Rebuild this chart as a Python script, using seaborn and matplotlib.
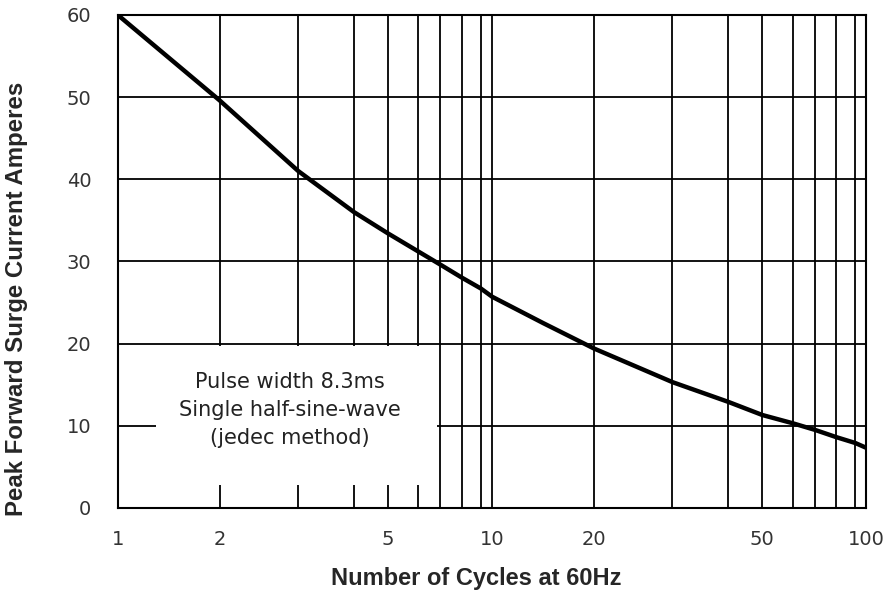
import numpy as np
import pandas as pd
import matplotlib
matplotlib.use("Agg")
import matplotlib.pyplot as plt
from matplotlib.patches import Rectangle
from matplotlib.ticker import FixedLocator, NullFormatter
import seaborn as sns

# values
cycles = [1, 2, 3, 4, 5, 6, 7, 8, 9, 10, 15, 20, 30, 40, 50, 60, 70, 80, 90, 100]
surge_amps = [60, 49.6, 41.0, 36.0, 33.4, 31.2, 29.6, 28.0, 26.7, 25.7, 22.5,
              19.4, 15.3, 12.9, 11.3, 10.3, 9.5, 8.6, 7.9, 7.3]
x_ticks = [1, 2, 5, 10, 20, 50, 100]
y_ticks = [0, 10, 20, 30, 40, 50, 60]
note_lines = ["Pulse width 8.3ms", "Single half-sine-wave", "(jedec method)"]

# the printed log paper is not a true log scale: where 1..10 sit inside a decade
MANT = np.arange(1, 11)
DECADE_POS = np.array([0, 0.272, 0.482, 0.631, 0.722, 0.803, 0.862, 0.920, 0.970, 1.0])


def paper_fwd(x):
    x = np.clip(np.asarray(x, dtype=float), 1e-6, None)
    d = np.floor(np.log10(x) + 1e-12)
    m = x / 10.0 ** d
    return d + np.interp(m, MANT, DECADE_POS)


def paper_inv(y):
    y = np.asarray(y, dtype=float)
    d = np.floor(y)
    m = np.interp(y - d, DECADE_POS, MANT)
    return m * 10.0 ** d


sns.set_style("white")
plt.rcParams['font.family'] = ['Liberation Sans', 'DejaVu Sans']

df = pd.DataFrame({"cycles": cycles, "amps": surge_amps})

fig = plt.figure(figsize=(8.85, 5.94), dpi=100)
ax = fig.add_axes([0.133, 0.145, 0.846, 0.830])

sns.lineplot(data=df, x="cycles", y="amps", ax=ax, color="black", linewidth=3.2, zorder=3)

ax.set_xscale("function", functions=(paper_fwd, paper_inv))
ax.set_xlim(1, 100)
ax.set_ylim(0, 60)

grid_x = list(range(1, 10)) + list(range(10, 101, 10))
ax.xaxis.set_major_locator(FixedLocator(x_ticks))
ax.xaxis.set_minor_locator(FixedLocator(grid_x))
ax.xaxis.set_minor_formatter(NullFormatter())
ax.set_xticklabels([str(t) for t in x_ticks], family="DejaVu Sans")
ax.set_yticks(y_ticks)
ax.set_yticklabels([str(t) for t in y_ticks], family="DejaVu Sans")

ax.set_axisbelow(True)
ax.grid(True, which="both", axis="x", color="black", linewidth=1.3)
ax.grid(True, which="major", axis="y", color="black", linewidth=1.3)

ax.tick_params(axis="both", which="both", length=0, labelsize=14, labelcolor="#333333")
ax.tick_params(axis="x", pad=16)
ax.tick_params(axis="y", pad=19)

for s in ax.spines.values():
    s.set_color("black")
    s.set_linewidth(1.5)
    s.set_zorder(4)

# white note box covering the grid
ax.add_patch(Rectangle((1.38, 2.8), 6.85 - 1.38, 19.7 - 2.8, facecolor="white",
                       edgecolor="none", zorder=1))
ax.text(2.89, 11.9, "\n".join(note_lines), ha="center", va="center",
        fontsize=15, family="DejaVu Sans", color="#222222", linespacing=1.5, zorder=2)

ax.set_xlabel("Number of Cycles at 60Hz", fontsize=17, fontweight="bold")
ax.set_ylabel("Peak Forward Surge Current Amperes", fontsize=17.3, fontweight="bold")
ax.xaxis.set_label_coords(0.479, -0.120)
ax.yaxis.set_label_coords(-0.120, 0.424)

fig.savefig("out.png", dpi=100)
